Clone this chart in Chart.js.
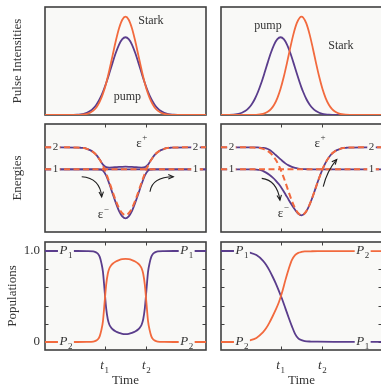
<!DOCTYPE html>
<html>
<head>
<meta charset="utf-8">
<script src="https://cdn.jsdelivr.net/npm/chart.js@4.4.1/dist/chart.umd.min.js"></script>
<style>
  html, body { margin: 0; padding: 0; background: #fff; overflow: hidden; }
  #wrap { position: relative; width: 381px; height: 386px; }
  #wrap canvas { position: absolute; left: 0; top: 0; }
</style>
</head>
<body>
<div id="wrap">
  <canvas id="pulseL" width="384" height="386"></canvas>
  <canvas id="pulseR" width="384" height="386"></canvas>
  <canvas id="energyL" width="384" height="386"></canvas>
  <canvas id="energyR" width="384" height="386"></canvas>
  <canvas id="popL" width="384" height="386"></canvas>
  <canvas id="popR" width="384" height="386"></canvas>
</div>
<script>
// crossing times (same units as the time axis, 0..100)
var T1 = 37, T2 = 63;

// --- pulses, coincident (left) ---
var pulseTimeL = [0, 10, 16, 20, 22, 24, 26, 28, 30, 32, 34, 36, 38, 40, 42, 44, 46, 48, 50,
  52, 54, 56, 58, 60, 62, 64, 66, 68, 70, 72, 74, 76, 78, 80, 84, 90, 100];
var pumpL = [0, 0, 0, 0.003, 0.006, 0.011, 0.021, 0.036, 0.061, 0.097, 0.148, 0.215, 0.296, 0.388, 0.485, 0.576, 0.652, 0.702, 0.720,
  0.702, 0.652, 0.576, 0.485, 0.388, 0.296, 0.215, 0.148, 0.097, 0.061, 0.036, 0.021, 0.011, 0.006, 0.003, 0, 0, 0];
var starkL = [0, 0, 0, 0.001, 0.002, 0.005, 0.010, 0.021, 0.040, 0.072, 0.123, 0.197, 0.295, 0.417, 0.552, 0.687, 0.803, 0.882, 0.910,
  0.882, 0.803, 0.687, 0.552, 0.417, 0.295, 0.197, 0.123, 0.072, 0.040, 0.021, 0.010, 0.005, 0.002, 0.001, 0, 0, 0];

// --- pulses, pump first (right) ---
var pulseTimeR = [0, 5, 10, 13, 15, 17, 19, 21, 23, 25, 27, 29, 31, 33, 35, 37, 39, 41, 43, 45, 47, 49, 50,
  51, 53, 55, 57, 59, 61, 63, 65, 67, 69, 71, 73, 75, 80, 90, 100];
var pumpR = [0, 0.001, 0.008, 0.021, 0.036, 0.061, 0.097, 0.148, 0.215, 0.296, 0.388, 0.485, 0.576, 0.652, 0.702, 0.720, 0.702, 0.652, 0.576, 0.485, 0.388, 0.296, 0.254,
  0.215, 0.148, 0.097, 0.061, 0.036, 0.021, 0.011, 0.006, 0.003, 0.001, 0, 0, 0, 0, 0, 0];
var starkR = [0, 0, 0, 0, 0, 0, 0.001, 0.001, 0.003, 0.007, 0.015, 0.029, 0.054, 0.095, 0.157, 0.243, 0.354, 0.483, 0.621, 0.749, 0.848, 0.903, 0.910,
  0.903, 0.848, 0.749, 0.621, 0.483, 0.354, 0.243, 0.157, 0.095, 0.054, 0.029, 0.015, 0.007, 0.001, 0, 0];

// --- energies ---
var energyTime = [0, 10, 20, 22, 24, 26, 28, 30, 32, 34, 36, 38, 40, 42, 44, 46, 48, 50,
  52, 54, 56, 58, 60, 62, 64, 66, 68, 70, 72, 74, 76, 78, 80, 90, 100];
var levelTime = [0, 100];
var level1 = [1, 1];
// Stark-shifted diabatic level 2 (dashed)
var level2 = [2.00, 2.00, 1.99, 1.98, 1.97, 1.93, 1.87, 1.78, 1.64, 1.43, 1.16, 0.81, 0.41, -0.02, -0.43, -0.77, -1.00, -1.08,
  -1.00, -0.77, -0.43, -0.02, 0.41, 0.81, 1.16, 1.43, 1.64, 1.78, 1.87, 1.93, 1.97, 1.98, 1.99, 2.00, 2.00];
// adiabatic energies, left
var epsPlusL = [2.00, 2.00, 1.99, 1.98, 1.97, 1.93, 1.87, 1.78, 1.643, 1.441, 1.216, 1.096, 1.081, 1.086, 1.097, 1.108, 1.115, 1.118,
  1.115, 1.108, 1.097, 1.086, 1.081, 1.096, 1.216, 1.441, 1.643, 1.78, 1.87, 1.93, 1.97, 1.98, 1.99, 2.00, 2.00];
var epsMinusL = [1, 1, 1, 1, 1, 1, 1, 0.999, 0.997, 0.989, 0.944, 0.714, 0.329, -0.106, -0.527, -0.90, -1.14, -1.23,
  -1.14, -0.90, -0.527, -0.106, 0.329, 0.714, 0.944, 0.989, 0.997, 0.999, 1, 1, 1, 1, 1, 1, 1];
// adiabatic energies, right
var epsUpperR = [2, 2, 2.0, 1.995, 1.99, 1.975, 1.95, 1.89, 1.78, 1.65, 1.52, 1.39, 1.27, 1.18, 1.11, 1.06, 1.03, 1.013,
  1.006, 1.002, 1, 1, 1, 1, 1, 1, 1, 1, 1, 1, 1, 1, 1, 1, 1];
var epsLowerR = [1, 1, 1.0, 0.99, 0.97, 0.93, 0.85, 0.75, 0.63, 0.49, 0.32, 0.11, -0.13, -0.38, -0.62, -0.84, -1.02, -1.09,
  -1.005, -0.772, -0.431, -0.02, 0.41, 0.81, 1.16, 1.43, 1.64, 1.78, 1.87, 1.93, 1.97, 1.98, 1.99, 2, 2];

// --- populations ---
var popTimeL = [0, 10, 20, 26, 30, 32, 33, 34, 35, 36, 37, 38, 39, 40, 41, 42, 44, 46, 48, 50,
  52, 54, 56, 58, 59, 60, 61, 62, 63, 64, 65, 66, 67, 68, 70, 74, 80, 90, 100];
var p1L = [1, 1, 1, 0.999, 0.995, 0.982, 0.968, 0.935, 0.87, 0.77, 0.57, 0.37, 0.25, 0.19, 0.16, 0.14, 0.115, 0.10, 0.09, 0.087,
  0.09, 0.10, 0.115, 0.14, 0.16, 0.19, 0.25, 0.37, 0.57, 0.77, 0.87, 0.935, 0.968, 0.982, 0.995, 0.999, 1, 1, 1];
var p2L = [0, 0, 0, 0.001, 0.005, 0.018, 0.032, 0.065, 0.13, 0.23, 0.43, 0.63, 0.75, 0.81, 0.84, 0.86, 0.885, 0.90, 0.91, 0.913,
  0.91, 0.90, 0.885, 0.86, 0.84, 0.81, 0.75, 0.63, 0.43, 0.23, 0.13, 0.065, 0.032, 0.018, 0.005, 0.001, 0, 0, 0];
var popTimeR = [0, 5, 10, 14, 18, 22, 26, 28, 30, 32, 34, 36, 38, 40, 42, 44, 46, 48, 50, 52, 56, 60, 70, 80, 90, 100];
var p1R = [1, 1, 1, 0.995, 0.982, 0.955, 0.895, 0.85, 0.79, 0.72, 0.645, 0.56, 0.47, 0.37, 0.27, 0.175, 0.09, 0.04, 0.02, 0.01, 0.005, 0.003, 0.002, 0.002, 0.002, 0.002];
var p2R = [0, 0, 0, 0.005, 0.018, 0.045, 0.105, 0.15, 0.21, 0.28, 0.355, 0.44, 0.55, 0.68, 0.80, 0.90, 0.955, 0.98, 0.99, 0.995, 0.997, 0.998, 0.998, 0.998, 0.998, 0.998];
var popTicks = [0, 0.2, 0.4, 0.6, 0.8, 1.0];

var PURPLE = '#5a3d8c';
var ORANGE = '#f26a3e';
var PANEL_BG = '#f9f9f7';
var FRAME = '#404040';
var INK = '#333333';
var SERIF = '"Liberation Serif", "DejaVu Serif", serif';
var PAGE_W = 384, PAGE_H = 386;

function series(times, values) {
  return times.map(function (t, i) { return { x: t, y: values[i] }; });
}

function line(times, values, color, extra) {
  return Object.assign({
    data: series(times, values),
    borderColor: color,
    borderWidth: 1.8,
    pointRadius: 0,
    cubicInterpolationMode: 'monotone',
    fill: false,
    order: 1
  }, extra || {});
}

function dashed(times, values) {
  return line(times, values, ORANGE, { borderDash: [6, 3.5], borderWidth: 2, order: 0 });
}

// text with optional sub/superscript, centred on (x, y)
function drawLabel(ctx, x, y, text, o) {
  o = o || {};
  var size = o.size || 12;
  var small = Math.round(size * 0.7);
  var mainFont = (o.italic ? 'italic ' : '') + size + 'px ' + SERIF;
  var smallFont = small + 'px ' + SERIF;
  var extra = o.sub || o.sup || '';
  ctx.font = mainFont;
  var w1 = ctx.measureText(text).width;
  ctx.font = smallFont;
  var w2 = extra ? ctx.measureText(extra).width + 0.5 : 0;
  var x0 = x - (w1 + w2) / 2;
  if (o.bg) {
    ctx.fillStyle = PANEL_BG;
    ctx.fillRect(x0 - 1.5, y - size * 0.5, w1 + w2 + 3, size);
  }
  ctx.fillStyle = INK;
  ctx.textAlign = 'left';
  ctx.textBaseline = 'middle';
  ctx.font = mainFont;
  ctx.fillText(text, x0, y);
  if (extra) {
    ctx.font = smallFont;
    ctx.fillText(extra, x0 + w1 + 0.5, o.sub ? y + size * 0.38 : y - size * 0.45);
  }
}

function drawArrow(ctx, p0, c, p1) {
  ctx.beginPath();
  ctx.moveTo(p0.x, p0.y);
  ctx.quadraticCurveTo(c.x, c.y, p1.x, p1.y);
  ctx.stroke();
  var ang = Math.atan2(p1.y - c.y, p1.x - c.x);
  var L = 5.5;
  ctx.beginPath();
  ctx.moveTo(p1.x - L * Math.cos(ang - 0.42), p1.y - L * Math.sin(ang - 0.42));
  ctx.lineTo(p1.x, p1.y);
  ctx.lineTo(p1.x - L * Math.cos(ang + 0.42), p1.y - L * Math.sin(ang + 0.42));
  ctx.stroke();
}

var panelPlugin = {
  id: 'panel',
  beforeDatasetsDraw: function (chart, args, opts) {
    var ctx = chart.ctx, a = chart.chartArea;
    var xs = chart.scales.x, ys = chart.scales.y;
    ctx.save();
    ctx.fillStyle = PANEL_BG;
    ctx.fillRect(a.left, a.top, a.width, a.height);
    ctx.strokeStyle = FRAME;
    ctx.lineWidth = 1.6;
    ctx.strokeRect(a.left, a.top, a.width, a.height);
    ctx.lineWidth = 1;
    (opts.xticks || []).forEach(function (v) {
      var px = Math.round(xs.getPixelForValue(v)) + 0.5;
      ctx.beginPath();
      ctx.moveTo(px, a.top); ctx.lineTo(px, a.top + 3.5);
      ctx.moveTo(px, a.bottom); ctx.lineTo(px, a.bottom - 3.5);
      ctx.stroke();
    });
    (opts.yticks || []).forEach(function (v) {
      var py = Math.round(ys.getPixelForValue(v)) + 0.5;
      ctx.beginPath();
      ctx.moveTo(a.left, py); ctx.lineTo(a.left + 3.5, py);
      ctx.moveTo(a.right, py); ctx.lineTo(a.right - 3.5, py);
      ctx.stroke();
    });
    ctx.restore();
  },
  afterDatasetsDraw: function (chart, args, opts) {
    var ctx = chart.ctx, a = chart.chartArea;
    var xs = chart.scales.x, ys = chart.scales.y;
    function pt(p) { return { x: xs.getPixelForValue(p[0]), y: ys.getPixelForValue(p[1]) }; }
    ctx.save();
    (opts.texts || []).forEach(function (t) {
      drawLabel(ctx, xs.getPixelForValue(t.x), ys.getPixelForValue(t.y), t.t, t);
    });
    ctx.strokeStyle = '#1e1e1e';
    ctx.lineWidth = 1.1;
    (opts.arrows || []).forEach(function (ar) {
      drawArrow(ctx, pt(ar[0]), pt(ar[1]), pt(ar[2]));
    });
    // axis title on the left, rotated
    if (opts.ytitle) {
      ctx.save();
      ctx.translate(a.left - opts.ytitleDx, (a.top + a.bottom) / 2);
      ctx.rotate(-Math.PI / 2);
      ctx.fillStyle = INK;
      ctx.font = '13px ' + SERIF;
      ctx.textAlign = 'center';
      ctx.textBaseline = 'middle';
      ctx.fillText(opts.ytitle, 0, 0);
      ctx.restore();
    }
    (opts.ylabels || []).forEach(function (l) {
      ctx.fillStyle = INK;
      ctx.font = '13px ' + SERIF;
      ctx.textAlign = 'right';
      ctx.textBaseline = 'middle';
      ctx.fillText(l.t, a.left - 5, ys.getPixelForValue(l.v));
    });
    if (opts.xtitle) {
      [['1', T1], ['2', T2]].forEach(function (l) {
        drawLabel(ctx, xs.getPixelForValue(l[1]), a.bottom + 16, 't', { italic: true, sub: l[0], size: 13 });
      });
      ctx.fillStyle = INK;
      ctx.font = '13px ' + SERIF;
      ctx.textAlign = 'center';
      ctx.textBaseline = 'middle';
      ctx.fillText(opts.xtitle, (a.left + a.right) / 2, a.bottom + 31);
    }
    ctx.restore();
  }
};

function makePanel(id, box, yMin, yMax, datasets, deco) {
  return new Chart(document.getElementById(id), {
    type: 'line',
    data: { datasets: datasets },
    options: {
      responsive: false,
      animation: false,
      devicePixelRatio: 1,
      events: [],
      layout: { padding: { left: box[0], top: box[1], right: PAGE_W - box[2], bottom: PAGE_H - box[3] } },
      scales: {
        x: { type: 'linear', min: 0, max: 100, display: false },
        y: { type: 'linear', min: yMin, max: yMax, display: false }
      },
      plugins: { legend: { display: false }, tooltip: { enabled: false }, panel: deco }
    },
    plugins: [panelPlugin]
  });
}

// panel boxes: left, top, right, bottom
var boxTL = [45, 7, 206, 115], boxTR = [221, 7, 382, 115];
var boxML = [45, 124, 206, 232], boxMR = [221, 124, 382, 232];
var boxBL = [45, 242, 206, 350], boxBR = [221, 242, 382, 350];

var levelLabels = [
  { x: 6.5, y: 2, t: '2', bg: true, size: 11 }, { x: 6.5, y: 1, t: '1', bg: true, size: 11 },
  { x: 93.5, y: 2, t: '2', bg: true, size: 11 }, { x: 93.5, y: 1, t: '1', bg: true, size: 11 }
];

makePanel('pulseL', boxTL, 0, 1, [
  line(pulseTimeL, starkL, ORANGE),
  line(pulseTimeL, pumpL, PURPLE)
], {
  ytitle: 'Pulse Intensities', ytitleDx: 27,
  texts: [{ x: 65.8, y: 0.87, t: 'Stark' }, { x: 51.2, y: 0.17, t: 'pump' }]
});

makePanel('pulseR', boxTR, 0, 1, [
  line(pulseTimeR, starkR, ORANGE),
  line(pulseTimeR, pumpR, PURPLE)
], {
  texts: [{ x: 29.2, y: 0.83, t: 'pump' }, { x: 74.5, y: 0.64, t: 'Stark' }]
});

makePanel('energyL', boxML, -1.85, 3.06, [
  dashed(levelTime, level1),
  dashed(energyTime, level2),
  line(energyTime, epsPlusL, PURPLE),
  line(energyTime, epsMinusL, PURPLE),
  line(levelTime, level1, PURPLE)
], {
  ytitle: 'Energies', ytitleDx: 27,
  xticks: [T1, T2],
  texts: levelLabels.concat([
    { x: 60.1, y: 2.18, t: 'ε', sup: '+', size: 13 },
    { x: 36.2, y: -1.08, t: 'ε', sup: '−', size: 13 }
  ]),
  arrows: [
    [[22.8, 0.66], [34.2, 0.60], [35.2, -0.25]],
    [[65.2, -0.02], [66.5, 0.65], [79.7, 0.66]]
  ]
});

makePanel('energyR', boxMR, -1.85, 3.06, [
  dashed(levelTime, level1),
  dashed(energyTime, level2),
  line(energyTime, epsUpperR, PURPLE),
  line(energyTime, epsLowerR, PURPLE)
], {
  xticks: [T1, T2],
  texts: levelLabels.concat([
    { x: 61.5, y: 2.18, t: 'ε', sup: '+', size: 13 },
    { x: 38.7, y: -1.0, t: 'ε', sup: '−', size: 13 }
  ]),
  arrows: [
    [[25.3, 0.59], [34.8, 0.51], [36.6, -0.40]],
    [[63.5, 0.21], [65.8, 0.92], [71.9, 1.45]]
  ]
});

makePanel('popL', boxBL, -0.088, 1.099, [
  line(popTimeL, p2L, ORANGE),
  line(popTimeL, p1L, PURPLE)
], {
  ytitle: 'Populations', ytitleDx: 32,
  xticks: [T1, T2], yticks: popTicks,
  ylabels: [{ v: 1, t: '1.0' }, { v: 0, t: '0' }],
  xtitle: 'Time',
  texts: [
    { x: 13, y: 1, t: 'P', sub: '1', italic: true, bg: true, size: 13 },
    { x: 13, y: 0, t: 'P', sub: '2', italic: true, bg: true, size: 13 },
    { x: 88, y: 1, t: 'P', sub: '1', italic: true, bg: true, size: 13 },
    { x: 88, y: 0, t: 'P', sub: '2', italic: true, bg: true, size: 13 }
  ]
});

makePanel('popR', boxBR, -0.088, 1.099, [
  line(popTimeR, p2R, ORANGE),
  line(popTimeR, p1R, PURPLE)
], {
  xticks: [T1, T2], yticks: popTicks,
  xtitle: 'Time',
  texts: [
    { x: 13, y: 1, t: 'P', sub: '1', italic: true, bg: true, size: 13 },
    { x: 13, y: 0, t: 'P', sub: '2', italic: true, bg: true, size: 13 },
    { x: 88, y: 1, t: 'P', sub: '2', italic: true, bg: true, size: 13 },
    { x: 88, y: 0, t: 'P', sub: '1', italic: true, bg: true, size: 13 }
  ]
});
</script>
</body>
</html>
